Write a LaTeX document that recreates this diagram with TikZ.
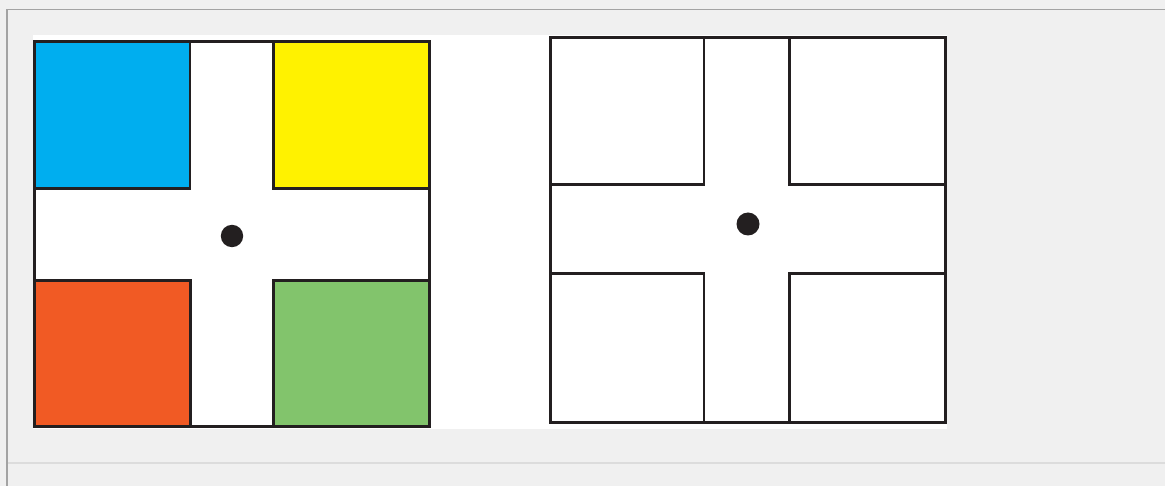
\documentclass[tikz,border=0pt]{standalone}
\begin{document}
\begin{tikzpicture}[x=1pt,y=-1pt,
  ink/.style={draw=inkc,line width=2.6pt},
  frame/.style={draw=inkc,line width=3.4pt},
  dot/.style={fill=inkc}]
\definecolor{inkc}{HTML}{231F20}
\definecolor{bgc}{HTML}{F0F0F0}
\definecolor{edgec}{HTML}{A3A3A3}
\definecolor{sepc}{HTML}{DCDCDC}
\definecolor{cblue}{HTML}{00AEEF}
\definecolor{cyellow}{HTML}{FFF200}
\definecolor{corange}{HTML}{F15A24}
\definecolor{cgreen}{HTML}{82C46C}
\useasboundingbox (0,0) rectangle (1165,486);
\fill[bgc] (0,0) rectangle (1165,486);
% window frame
\draw[edgec,line width=1.8pt] (6,9.5) -- (1165,9.5);
\draw[edgec,line width=1.8pt] (7,9.5) -- (7,486);
\draw[sepc,line width=2.2pt] (8,463) -- (1165,463);
% white image area
\fill[white] (33,35) rectangle (947,429);
% left square
\fill[cblue] (34.5,41.5) rectangle (190,188.5);
\fill[cyellow] (273.5,41.5) rectangle (429.5,188.5);
\fill[corange] (34.5,280.5) rectangle (190.5,426.5);
\fill[cgreen] (273.5,280.5) rectangle (429.5,426.5);
\draw[ink] (34.5,188.5) -- (190,188.5) -- (190,41.5);
\draw[ink] (273.5,41.5) -- (273.5,188.5) -- (429.5,188.5);
\draw[ink] (34.5,280.5) -- (190.5,280.5) -- (190.5,426.5);
\draw[ink] (273.5,426.5) -- (273.5,280.5) -- (429.5,280.5);
\draw[frame] (34.5,41.5) rectangle (429.5,426.5);
\fill[dot] (232,236) circle (11.2);
% right square
\draw[ink] (550.5,184.5) -- (704,184.5) -- (704,37.5);
\draw[ink] (789.5,37.5) -- (789.5,184.5) -- (945.5,184.5);
\draw[ink] (550.5,273.5) -- (704,273.5) -- (704,422.5);
\draw[ink] (789.5,422.5) -- (789.5,273.5) -- (945.5,273.5);
\draw[frame] (550.5,37.5) rectangle (945.5,422.5);
\fill[dot] (748,224) circle (11.5);
\end{tikzpicture}
\end{document}
